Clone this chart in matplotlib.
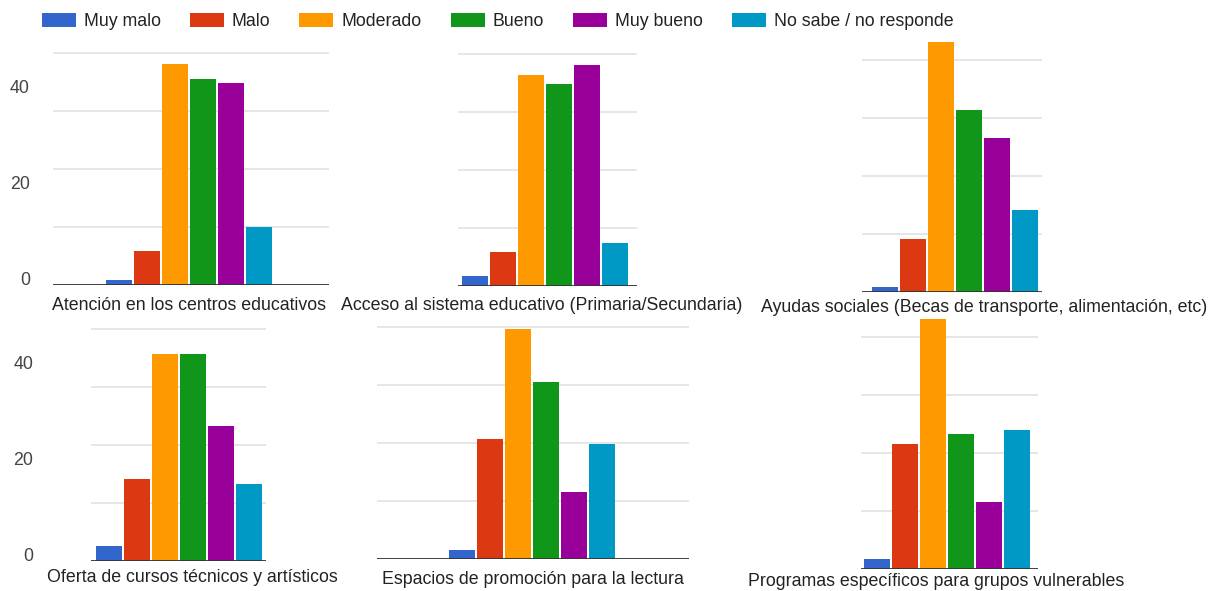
import numpy as np
import matplotlib.pyplot as plt

plt.rcParams['font.family'] = ['Liberation Sans', 'DejaVu Sans']

respuestas = ["Muy malo", "Malo", "Moderado", "Bueno", "Muy bueno", "No sabe / no responde"]
colores = ["#3366cc", "#dc3912", "#ff9900", "#109618", "#990099", "#0099c6"]

temas = [
    "Atención en los centros educativos",
    "Acceso al sistema educativo (Primaria/Secundaria)",
    "Ayudas sociales (Becas de transporte, alimentación, etc)",
    "Oferta de cursos técnicos y artísticos",
    "Espacios de promoción para la lectura",
    "Programas específicos para grupos vulnerables",
]

atencion = [1, 7, 46, 43, 42, 12]
acceso = [2, 7, 44, 42, 46, 9]
ayudas = [1, 11, 52, 38, 32, 17]
cursos = [3, 17, 43, 43, 28, 16]
lectura = [2, 25, 48, 37, 14, 24]
programas = [2, 26, 52, 28, 14, 29]
valores = [atencion, acceso, ayudas, cursos, lectura, programas]

W, H = 1217, 591
PX = 4.8          # pixels per respondent
STEP = 28         # pixels per bar slot
GRID = 58 / PX
FS = 12.8

# left, right, baseline, group centre, label x, label y (pixels), show y labels
layout = [
    (53, 329, 285, 189, 189, 305, True),
    (458, 637, 286, 545, 542, 305, False),
    (862, 1042, 292, 955, 984, 307, False),
    (91, 266, 560.7, 179, 192, 577, True),
    (377, 689, 559.3, 531.5, 532.5, 580, False),
    (861, 1038, 568.7, 947, 936, 582, False),
]

fig = plt.figure(figsize=(W / 100, H / 100), dpi=100)
x = np.arange(len(respuestas))
handles = None

for tema, vals, (l, r, base, gc, lx, ly, ylab) in zip(temas, valores, layout):
    top = base - 255
    ax = fig.add_axes([l / W, 1 - base / H, (r - l) / W, (base - top) / H])
    ax.patch.set_visible(False)
    for k in range(1, 5):
        ax.axhline(k * GRID, color="#e4e4e4", lw=1.3, zorder=0)
    bars = ax.bar(x, vals, width=26 / STEP, color=colores, zorder=2, clip_on=False)
    if handles is None:
        handles = list(bars)
    ax.axhline(0, color="#333333", lw=1.3, zorder=3)
    ax.set_xlim(2.5 - (gc - l) / STEP, 2.5 + (r - gc) / STEP)
    ax.set_ylim(0, (base - top) / PX)
    for s in ax.spines.values():
        s.set_visible(False)
    ax.set_xticks([])
    if ylab:
        ax.set_yticks([0, 20, 40])
        ax.set_yticklabels(["0", "20", "40"])
        ax.tick_params(axis="y", length=0, labelsize=FS, labelcolor="#444444",
                       pad=(l - (30 if l < 60 else 33)) * 0.72)
        for t in ax.get_yticklabels():
            t.set_va("baseline")
    else:
        ax.set_yticks([])
    fig.text(lx / W, 1 - ly / H, tema, ha="center", va="center",
             fontsize=FS, color="#222222")

fig.legend(handles, respuestas, loc="center left",
           bbox_to_anchor=(42 / W, 1 - 21.5 / H), ncol=6, frameon=False,
           fontsize=FS, labelcolor="#222222", borderpad=0, borderaxespad=0,
           handlelength=1.91, handleheight=0.84, handletextpad=0.45,
           columnspacing=1.63)

fig.savefig("out.png", dpi=100)
